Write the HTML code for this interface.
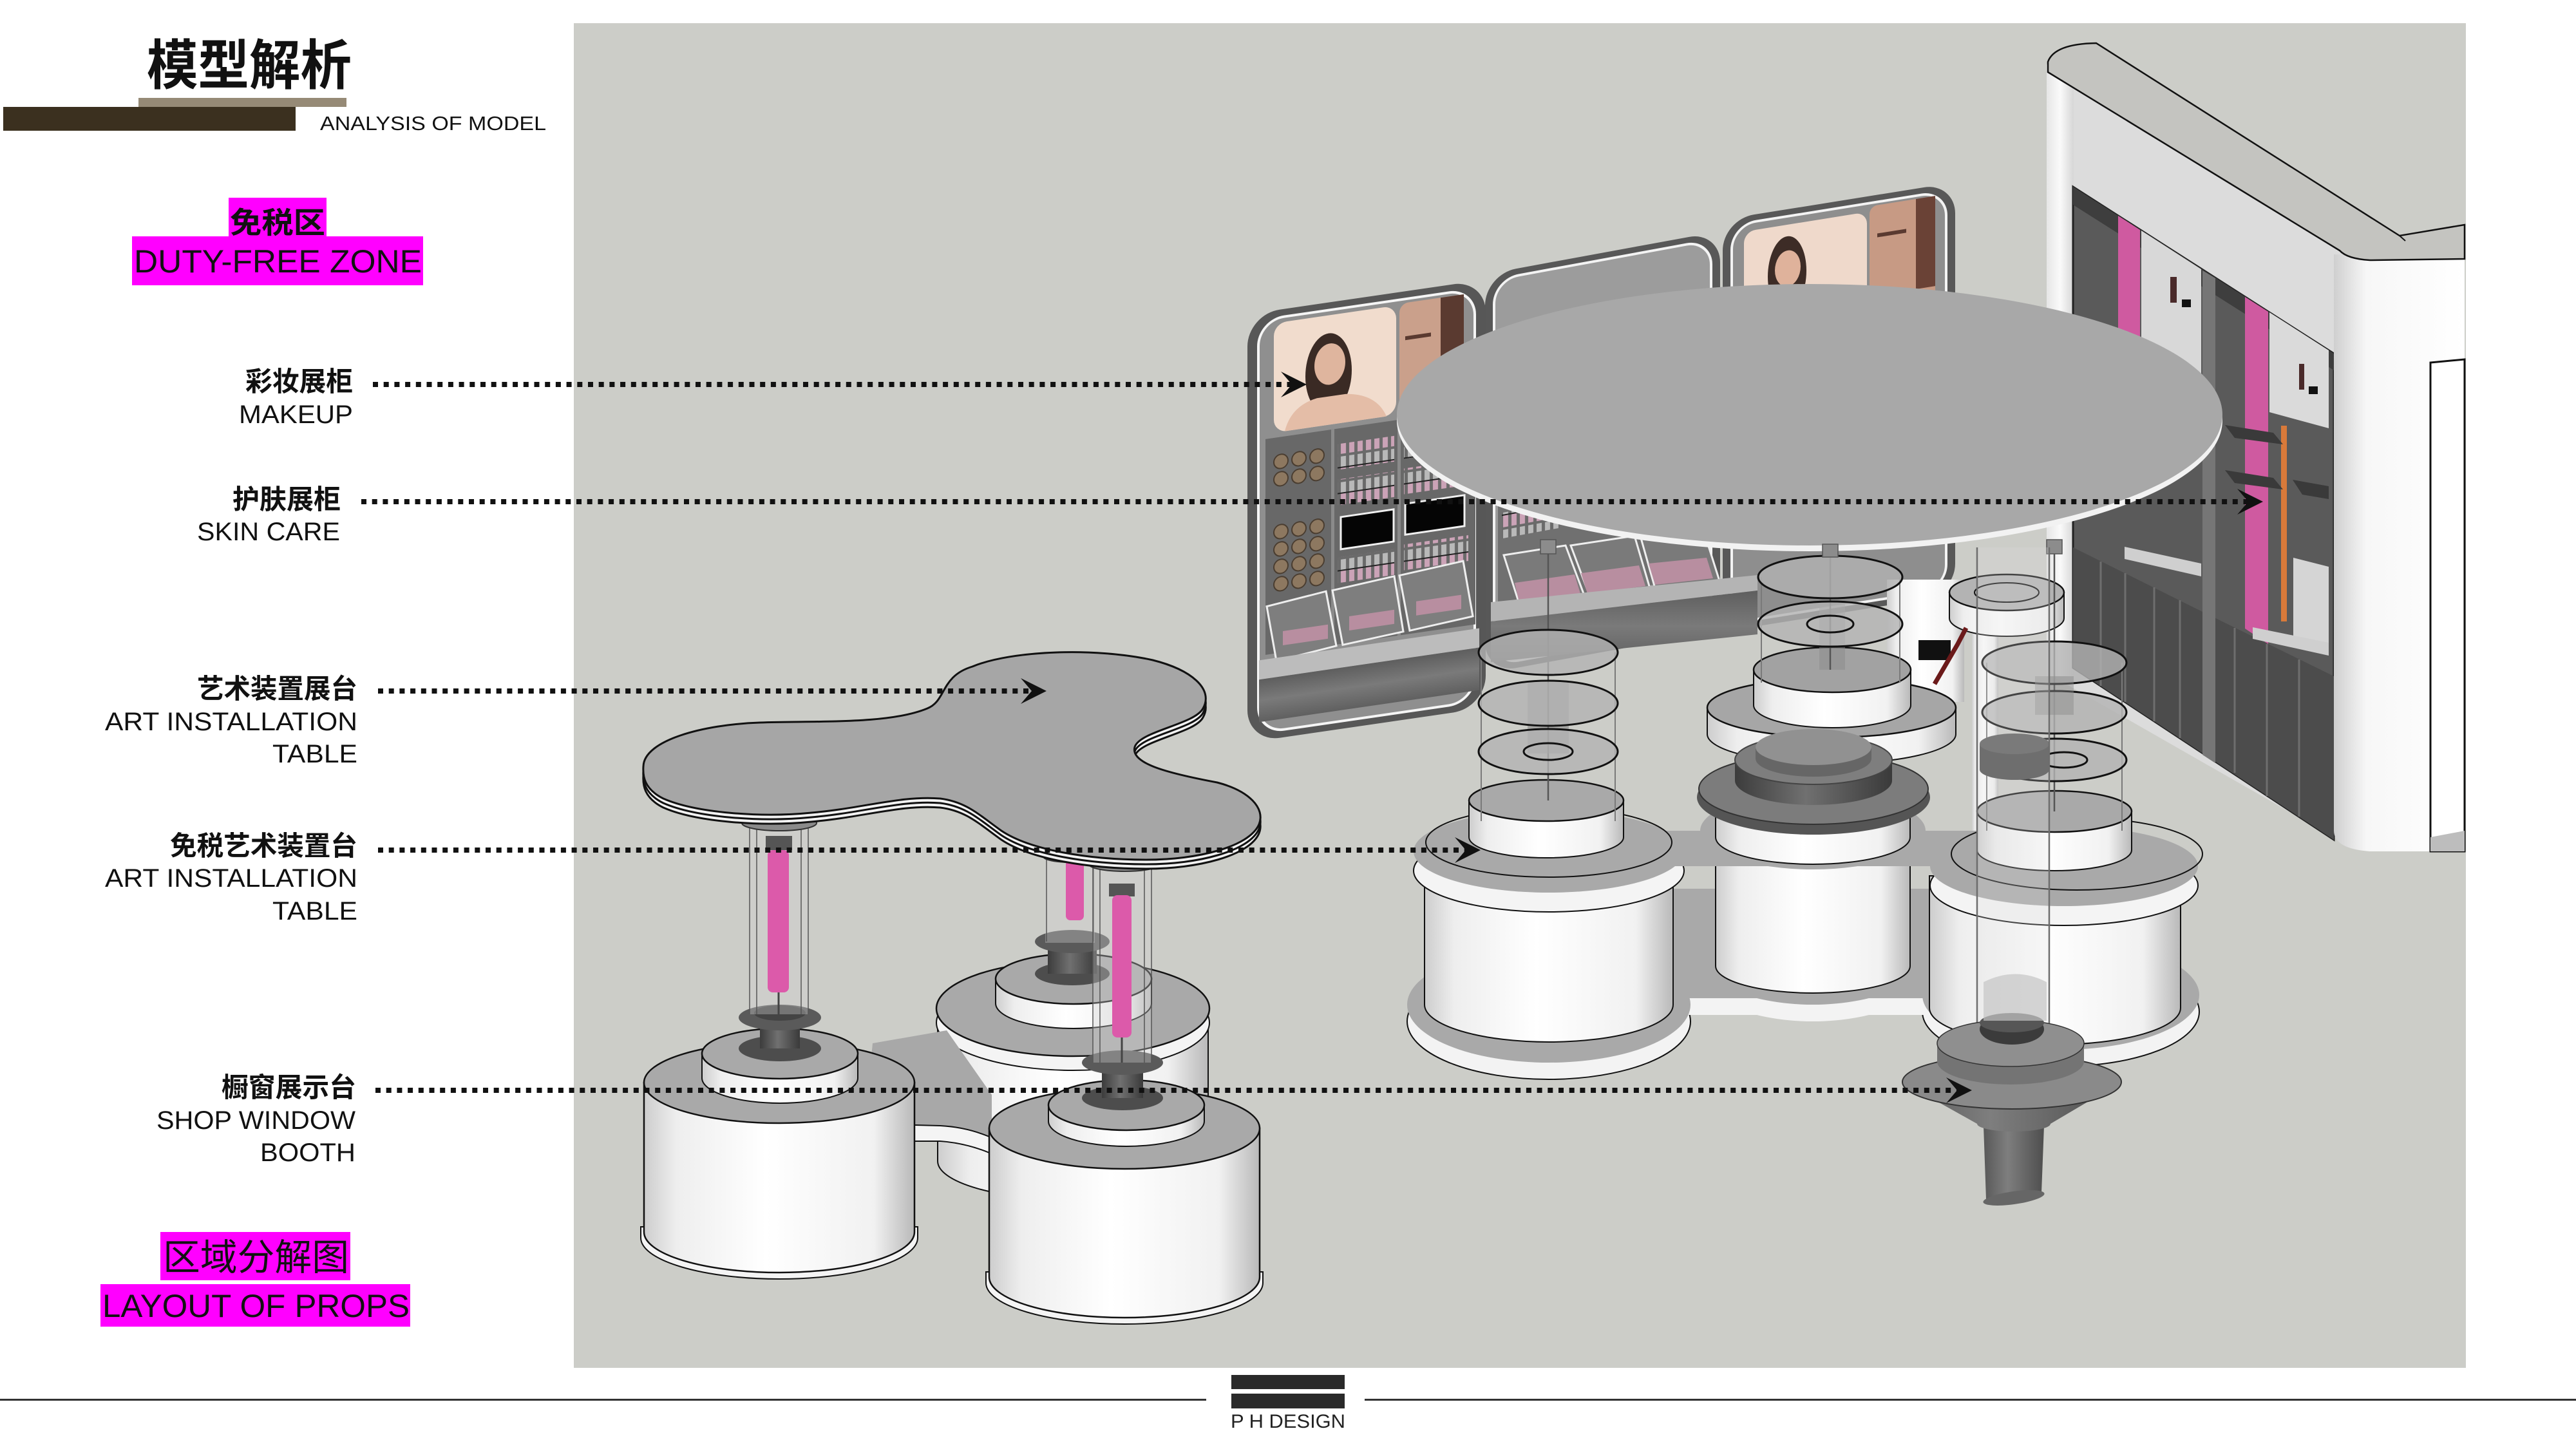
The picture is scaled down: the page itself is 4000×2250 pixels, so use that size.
<!DOCTYPE html>
<html><head><meta charset="utf-8">
<style>
html,body{margin:0;padding:0;background:#fff;}
svg{display:block;}
text{font-family:"Liberation Sans","Noto Sans CJK SC",sans-serif;fill:#111;}
.cn{font-weight:700;}
</style></head><body>
<svg width="4000" height="2250" viewBox="0 0 4000 2250" xmlns="http://www.w3.org/2000/svg">
<defs>
<linearGradient id="gW" x1="0" x2="1" y1="0" y2="0">
<stop offset="0" stop-color="#cdcdcd"/><stop offset="0.12" stop-color="#eeeeee"/><stop offset="0.45" stop-color="#ffffff"/><stop offset="0.85" stop-color="#f1f1f1"/><stop offset="1" stop-color="#b9b9b9"/>
</linearGradient>
<linearGradient id="gD" x1="0" x2="1" y1="0" y2="0">
<stop offset="0" stop-color="#3c3c3c"/><stop offset="0.45" stop-color="#707070"/><stop offset="1" stop-color="#3a3a3a"/>
</linearGradient>
<linearGradient id="gCone" x1="0" x2="1" y1="0" y2="0">
<stop offset="0" stop-color="#585858"/><stop offset="0.4" stop-color="#7e7e7e"/><stop offset="1" stop-color="#4e4e4e"/>
</linearGradient>
<linearGradient id="gCorner" x1="0" x2="1" y1="0" y2="0">
<stop offset="0" stop-color="#cfcfcf"/><stop offset="0.25" stop-color="#f7f7f7"/><stop offset="1" stop-color="#ffffff"/>
</linearGradient>
<linearGradient id="gEdge" x1="0" x2="1" y1="0" y2="0">
<stop offset="0" stop-color="#e6e6e6"/><stop offset="0.5" stop-color="#fafafa"/><stop offset="1" stop-color="#d6d6d6"/>
</linearGradient>
<linearGradient id="gCounter" x1="0" x2="0" y1="0" y2="1">
<stop offset="0" stop-color="#5e5e5e"/><stop offset="0.5" stop-color="#7a7a7a"/><stop offset="1" stop-color="#606060"/>
</linearGradient>
<pattern id="lip" width="13" height="40" patternUnits="userSpaceOnUse">
<rect x="0" y="0" width="13" height="40" fill="#6a6a6a"/>
<rect x="2" y="2" width="8" height="16" fill="#b9b9b9"/>
<rect x="2" y="20" width="8" height="18" fill="#cba3b7"/>
<rect x="0" y="18" width="13" height="2" fill="#222"/>
</pattern>
</defs>

<!-- header -->
<text x="228" y="131" font-size="84" class="cn" textLength="318" lengthAdjust="spacingAndGlyphs">模型解析</text>
<rect x="215" y="152" width="323" height="14" fill="#968a76"/>
<rect x="5" y="166" width="454" height="37" fill="#3b301f"/>
<text x="497" y="202" font-size="31" textLength="351" lengthAdjust="spacingAndGlyphs">ANALYSIS OF MODEL</text>

<rect x="355" y="307" width="152" height="61" fill="#ff00ff"/>
<rect x="205" y="367" width="452" height="76" fill="#ff00ff"/>
<text x="357" y="362" font-size="46" class="cn" textLength="148" lengthAdjust="spacingAndGlyphs">免税区</text>
<text x="208" y="423" font-size="50" textLength="447" lengthAdjust="spacingAndGlyphs">DUTY-FREE ZONE</text>

<!-- labels -->
<text x="381" y="607" font-size="42" class="cn" textLength="167" lengthAdjust="spacingAndGlyphs">彩妆展柜</text>
<text x="371" y="657" font-size="40" textLength="177" lengthAdjust="spacingAndGlyphs">MAKEUP</text>
<text x="361" y="790" font-size="42" class="cn" textLength="168" lengthAdjust="spacingAndGlyphs">护肤展柜</text>
<text x="306" y="839" font-size="40" textLength="222" lengthAdjust="spacingAndGlyphs">SKIN CARE</text>
<text x="306" y="1084" font-size="42" class="cn" textLength="249" lengthAdjust="spacingAndGlyphs">艺术装置展台</text>
<text x="163" y="1134" font-size="40" textLength="392" lengthAdjust="spacingAndGlyphs">ART INSTALLATION</text>
<text x="423" y="1184" font-size="40" textLength="132" lengthAdjust="spacingAndGlyphs">TABLE</text>
<text x="264" y="1328" font-size="42" class="cn" textLength="291" lengthAdjust="spacingAndGlyphs">免税艺术装置台</text>
<text x="163" y="1377" font-size="40" textLength="392" lengthAdjust="spacingAndGlyphs">ART INSTALLATION</text>
<text x="423" y="1428" font-size="40" textLength="132" lengthAdjust="spacingAndGlyphs">TABLE</text>
<text x="344" y="1703" font-size="42" class="cn" textLength="209" lengthAdjust="spacingAndGlyphs">橱窗展示台</text>
<text x="243" y="1753" font-size="40" textLength="309" lengthAdjust="spacingAndGlyphs">SHOP WINDOW</text>
<text x="404" y="1803" font-size="40" textLength="148" lengthAdjust="spacingAndGlyphs">BOOTH</text>

<rect x="249" y="1913" width="295" height="75" fill="#ff00ff"/>
<rect x="156" y="1994" width="481" height="66" fill="#ff00ff"/>
<text x="253" y="1972" font-size="57" textLength="289" lengthAdjust="spacingAndGlyphs">区域分解图</text>
<text x="159" y="2045" font-size="50" textLength="477" lengthAdjust="spacingAndGlyphs">LAYOUT OF PROPS</text>

<!-- footer -->
<rect x="0" y="2172" width="1873" height="3" fill="#333"/>
<rect x="2119" y="2172" width="1881" height="3" fill="#333"/>
<rect x="1912" y="2135" width="176" height="22" fill="#2a2a2a"/>
<rect x="1912" y="2164" width="176" height="23" fill="#2a2a2a"/>
<text x="1911" y="2217" font-size="30" textLength="178" lengthAdjust="spacingAndGlyphs" style="fill:#222">P H DESIGN</text>

<!-- model panel -->
<rect x="891" y="36" width="2938" height="2088" fill="#cccdc8"/>

<!-- RIGHT WALL -->
<path d="M3178,105 L3645,395 L3645,1312 L3178,1045 Z" fill="#dcdcdc"/>
<rect x="3178" y="100" width="42" height="950" fill="url(#gEdge)"/>
<path d="M3219,290 L3624,549 L3624,1304 L3219,1037 Z" fill="#5a5a5a" stroke="#222" stroke-width="3"/>
<path d="M3219,290 L3624,549 L3624,575 L3219,318 Z" fill="#3e3e3e"/>
<path d="M3219,850 L3420,950 L3624,1050 L3624,1304 L3219,1037 Z" fill="#4c4c4c"/>
<g stroke="#6e6e6e" stroke-width="3">
<line x1="3262" y1="872" x2="3262" y2="1065"/><line x1="3300" y1="890" x2="3300" y2="1090"/>
<line x1="3345" y1="912" x2="3345" y2="1120"/><line x1="3385" y1="932" x2="3385" y2="1146"/>
<line x1="3470" y1="975" x2="3470" y2="1200"/><line x1="3520" y1="1000" x2="3520" y2="1236"/>
<line x1="3570" y1="1024" x2="3570" y2="1268"/>
</g>
<path d="M3289,335 L3323,357 L3323,540 L3289,518 Z" fill="#cf5aa0"/>
<path d="M3325,358 L3418,418 L3418,600 L3325,570 Z" fill="#d8d8d8"/>
<rect x="3370" y="430" width="10" height="40" fill="#4a2a2a"/><rect x="3388" y="465" width="14" height="12" fill="#111"/>
<path d="M3420,420 L3440,432 L3440,1185 L3420,1172 Z" fill="#767676"/>
<path d="M3486,461 L3522,484 L3522,1000 L3486,976 Z" fill="#cf5aa0"/>
<path d="M3524,485 L3616,544 L3616,665 L3524,640 Z" fill="#dadada"/>
<rect x="3570" y="565" width="8" height="40" fill="#4a2a2a"/><rect x="3585" y="600" width="14" height="12" fill="#111"/>
<rect x="3542" y="661" width="9" height="304" fill="#d97a3a"/>
<path d="M3561,866 L3616,880 L3616,1000 L3561,990 Z" fill="#d5d5d5"/>
<path d="M3455,660 L3530,672 L3545,690 L3470,680 Z" fill="#3a3a3a"/>
<path d="M3455,730 L3530,742 L3545,760 L3470,750 Z" fill="#3a3a3a"/>
<path d="M3560,745 L3616,755 L3616,775 L3575,768 Z" fill="#3a3a3a"/>
<path d="M3299,849 L3418,875 L3418,895 L3299,868 Z" fill="#cfcfcf"/>
<path d="M3498,974 L3616,998 L3616,1018 L3498,992 Z" fill="#cfcfcf"/>
<path d="M3624,395 L3827,400 L3827,1322 L3680,1322 Q3624,1318 3624,1290 Z" fill="url(#gCorner)"/>
<path d="M3774,1322 L3774,563 L3827,558 L3827,1322 Z" fill="#ffffff" stroke="#111" stroke-width="3"/>
<path d="M3774,1300 L3827,1290 L3827,1322 L3774,1322 Z" fill="#bdbdbd"/>
<path d="M3180,112 L3180,96 Q3190,68 3255,67 L3726,366 L3827,349 L3827,402 L3680,404 Q3645,402 3633,389 Z" fill="#c4c4c0" stroke="#111" stroke-width="2.5"/>
<line x1="3726" y1="366" x2="3735" y2="374" stroke="#111" stroke-width="2"/>

<!-- PANEL 3 -->
<g transform="translate(2675,341) skewY(-9.1)">
<rect x="0" y="0" width="361" height="640" rx="48" fill="#585858"/>
<rect x="14" y="11" width="333" height="618" rx="38" fill="#8e8e8e" stroke="#f3f3f3" stroke-width="4"/>
<rect x="33" y="24" width="191" height="160" rx="18" fill="#efd9cb"/>
<ellipse cx="100" cy="100" rx="30" ry="58" fill="#3d2c26"/>
<ellipse cx="101" cy="92" rx="20" ry="28" fill="#dfb29b"/>
<rect x="228" y="16" width="102" height="168" rx="12" fill="#c79a84"/>
<rect x="300" y="16" width="30" height="140" fill="#6a4236"/>
<rect x="240" y="60" width="45" height="6" fill="#5a3a30"/>
</g>

<!-- PANEL 2 -->
<g transform="translate(2306,426) skewY(-10.4)">
<rect x="0" y="0" width="365" height="620" rx="48" fill="#585858"/>
<rect x="14" y="11" width="337" height="598" rx="38" fill="#9c9c9c" stroke="#f3f3f3" stroke-width="4"/>
<rect x="20" y="300" width="325" height="230" fill="#707070"/>
<rect x="26" y="320" width="90" height="40" fill="url(#lip)"/>
<rect x="26" y="375" width="90" height="40" fill="url(#lip)"/>
</g>
<path d="M2335,862 L2431,847 L2464,935 L2364,953 Z" fill="#7a7a7a" stroke="#eee" stroke-width="3"/>
<path d="M2439,847 L2538,832 L2563,917 L2472,935 Z" fill="#7a7a7a" stroke="#eee" stroke-width="3"/>
<path d="M2547,832 L2646,826 L2671,905 L2571,917 Z" fill="#7a7a7a" stroke="#eee" stroke-width="3"/>
<path d="M2352,905 L2445,892 L2455,925 L2360,940 Z" fill="#b88ea0"/>
<path d="M2455,890 L2545,878 L2555,910 L2465,922 Z" fill="#b88ea0"/>
<path d="M2560,875 L2650,866 L2660,898 L2570,908 Z" fill="#b88ea0"/>
<path d="M2315,935 L2729,893 L2729,917 L2315,965 Z" fill="#b4b4b4"/>
<path d="M2315,965 L2729,917 L2729,985 L2315,1028 Z" fill="url(#gCounter)"/>

<!-- PANEL 1 -->
<g transform="translate(1937,488) skewY(-8.3)">
<rect x="0" y="0" width="370" height="665" rx="50" fill="#575757"/>
<rect x="17" y="12" width="336" height="641" rx="40" fill="#8f8f8f" stroke="#f5f5f5" stroke-width="4"/>
<rect x="41" y="20" width="190" height="170" rx="20" fill="#f1dccd"/>
<ellipse cx="126" cy="110" rx="36" ry="62" fill="#3a2a24"/>
<ellipse cx="128" cy="96" rx="24" ry="32" fill="#dfb59e"/>
<path d="M58,190 Q68,152 108,146 L152,146 Q200,152 216,190 Z" fill="#e4bda7"/>
<rect x="236" y="18" width="100" height="172" rx="14" fill="#caa08b"/>
<rect x="300" y="18" width="36" height="130" fill="#5a3a30"/>
<rect x="245" y="70" width="40" height="6" fill="#5a3a30"/>
<rect x="28" y="198" width="326" height="335" fill="#686868"/>
<rect x="130" y="198" width="5" height="335" fill="#8a8a8a"/>
<rect x="233" y="198" width="5" height="335" fill="#8a8a8a"/>
<g fill="#8d7860" stroke="#4a3d30" stroke-width="2">
<circle cx="52" cy="236" r="11"/><circle cx="80" cy="236" r="11"/><circle cx="108" cy="236" r="11"/>
<circle cx="52" cy="263" r="11"/><circle cx="80" cy="263" r="11"/><circle cx="108" cy="263" r="11"/>
<circle cx="52" cy="345" r="11"/><circle cx="80" cy="345" r="11"/><circle cx="108" cy="345" r="11"/>
<circle cx="52" cy="372" r="11"/><circle cx="80" cy="372" r="11"/><circle cx="108" cy="372" r="11"/>
<circle cx="52" cy="399" r="11"/><circle cx="80" cy="399" r="11"/><circle cx="108" cy="399" r="11"/>
<circle cx="52" cy="426" r="11"/><circle cx="80" cy="426" r="11"/><circle cx="108" cy="426" r="11"/>
</g>
<rect x="140" y="222" width="88" height="40" fill="url(#lip)"/>
<rect x="140" y="277" width="88" height="40" fill="url(#lip)"/>
<rect x="140" y="398" width="88" height="40" fill="url(#lip)"/>
<rect x="243" y="220" width="100" height="40" fill="url(#lip)"/>
<rect x="243" y="275" width="100" height="40" fill="url(#lip)"/>
<rect x="243" y="393" width="100" height="40" fill="url(#lip)"/>
<rect x="145" y="336" width="82" height="50" fill="#050505" stroke="#f0f0f0" stroke-width="3"/>
<rect x="245" y="330" width="92" height="48" fill="#050505" stroke="#f0f0f0" stroke-width="3"/>
<path d="M30,458 L122,448 L138,535 L45,545 Z" fill="#7e7e7e" stroke="#eee" stroke-width="3"/>
<path d="M132,448 L228,440 L242,528 L148,535 Z" fill="#7e7e7e" stroke="#eee" stroke-width="3"/>
<path d="M236,440 L335,432 L350,520 L252,528 Z" fill="#7e7e7e" stroke="#eee" stroke-width="3"/>
<rect x="55" y="500" width="70" height="22" fill="#b88ea0"/>
<rect x="158" y="492" width="70" height="22" fill="#b88ea0"/>
<rect x="262" y="484" width="70" height="22" fill="#b88ea0"/>
<rect x="18" y="540" width="342" height="30" fill="#bcbcbc"/>
<rect x="18" y="570" width="342" height="66" fill="url(#gCounter)"/>
</g>

<!-- RIGHT CLUSTER back items -->
<path d="M3062,930 L3062,1300 L3103,1300 L3103,930 Z" fill="url(#gW)"/>
<path d="M2930,900 L2930,1090 L3050,1090 L3050,900 Z" fill="url(#gW)"/>
<path d="M3027,920 L3027,960 A89,28 0 0 0 3205,960 L3205,920 Z" fill="url(#gW)" stroke="#111" stroke-width="2"/>
<ellipse cx="3116" cy="920" rx="89" ry="28" fill="#b3b3b3" stroke="#111" stroke-width="2.5"/>
<ellipse cx="3116" cy="920" rx="50" ry="15" fill="none" stroke="#111" stroke-width="2"/>
<rect x="2979" y="994" width="50" height="31" fill="#111"/>
<path d="M3004,1062 L3040,1000 L3053,975" stroke="#6b1a1a" stroke-width="7" fill="none"/>

<!-- bottom slab -->
<g fill="#f3f3f3" stroke="#111" stroke-width="2" transform="translate(0,26)">
<ellipse cx="2405" cy="1560" rx="220" ry="90"/>
<ellipse cx="3200" cy="1545" rx="215" ry="85"/>
</g>
<g fill="#f3f3f3" transform="translate(0,26)">
<ellipse cx="2815" cy="1470" rx="190" ry="90"/>
<rect x="2405" y="1430" width="795" height="120"/>
</g>
<g fill="#a9a9a9">
<ellipse cx="2405" cy="1560" rx="220" ry="90"/>
<ellipse cx="3200" cy="1545" rx="215" ry="85"/>
<ellipse cx="2815" cy="1470" rx="190" ry="90"/>
<rect x="2405" y="1380" width="795" height="170"/>
</g>
<!-- drums -->
<path d="M2664,1300 L2664,1500 A151,42 0 0 0 2966,1500 L2966,1300 Z" fill="url(#gW)" stroke="#111" stroke-width="2"/>
<path d="M2212,1330 L2212,1560 A193,58 0 0 0 2598,1560 L2598,1330 Z" fill="url(#gW)" stroke="#111" stroke-width="2"/>
<path d="M2996,1360 L2996,1565 A195,57 0 0 0 3386,1565 L3386,1360 Z" fill="url(#gW)" stroke="#111" stroke-width="2"/>
<!-- top slab -->
<g fill="#f4f4f4" stroke="#111" stroke-width="2" transform="translate(0,30)">
<ellipse cx="2405" cy="1322" rx="210" ry="64"/>
<ellipse cx="3205" cy="1345" rx="208" ry="62"/>
</g>
<g fill="#a9a9a9">
<ellipse cx="2405" cy="1322" rx="210" ry="64"/>
<ellipse cx="3205" cy="1345" rx="208" ry="62"/>
<ellipse cx="2815" cy="1290" rx="175" ry="60"/>
<rect x="2405" y="1290" width="800" height="55"/>
</g>
<ellipse cx="2405" cy="1308" rx="191" ry="54" fill="none" stroke="#111" stroke-width="2"/>
<ellipse cx="3225" cy="1326" rx="195" ry="56" fill="none" stroke="#111" stroke-width="2"/>

<!-- middle back ring + cylinder -->
<path d="M2651,1099 L2651,1140 A193,46 0 0 0 3037,1140 L3037,1099 Z" fill="url(#gW)" stroke="#111" stroke-width="2"/>
<ellipse cx="2844" cy="1099" rx="193" ry="46" fill="#a6a6a6" stroke="#111" stroke-width="2.5"/>
<path d="M2723,1040 L2723,1095 A122,35 0 0 0 2967,1095 L2967,1040 Z" fill="url(#gW)" stroke="#111" stroke-width="2"/>
<ellipse cx="2845" cy="1040" rx="122" ry="35" fill="#a2a2a2" stroke="#111" stroke-width="2.5"/>
<rect x="2825" y="870" width="40" height="170" fill="#8a8a8a" opacity="0.5"/>

<!-- middle upper drum + dish -->
<path d="M2664,1243 L2664,1300 A151,42 0 0 0 2966,1300 L2966,1243 Z" fill="url(#gW)" stroke="#111" stroke-width="2"/>
<ellipse cx="2816" cy="1238" rx="181" ry="58" fill="#555"/>
<ellipse cx="2816" cy="1225" rx="178" ry="55" fill="#7c7c7c" stroke="#333" stroke-width="2"/>
<path d="M2694,1180 L2694,1212 A122,38 0 0 0 2938,1212 L2938,1180 Z" fill="url(#gD)"/>
<ellipse cx="2816" cy="1180" rx="122" ry="38" fill="#7e7e7e" stroke="#444" stroke-width="2"/>
<path d="M2726,1160 L2726,1178 A90,28 0 0 0 2906,1178 L2906,1160 Z" fill="#666"/>
<ellipse cx="2816" cy="1160" rx="90" ry="28" fill="#919191"/>

<!-- left inner drum -->
<path d="M2281,1243 L2281,1300 A120,32 0 0 0 2521,1300 L2521,1243 Z" fill="url(#gW)" stroke="#111" stroke-width="2"/>
<ellipse cx="2401" cy="1243" rx="120" ry="32" fill="#a9a9a9" stroke="#111" stroke-width="2.5"/>
<!-- right inner drum -->
<path d="M3070,1260 L3070,1320 A120,32 0 0 0 3310,1320 L3310,1260 Z" fill="url(#gW)" stroke="#111" stroke-width="2"/>
<ellipse cx="3190" cy="1260" rx="120" ry="32" fill="#a9a9a9" stroke="#111" stroke-width="2.5"/>

<!-- rods -->
<g stroke="#555" stroke-width="2.5">
<line x1="2404" y1="845" x2="2404" y2="1243"/>
<line x1="2842" y1="845" x2="2842" y2="1040"/>
<line x1="3190" y1="845" x2="3190" y2="1260"/>
</g>
<g stroke="#7a7a7a" stroke-width="2">
<line x1="2300" y1="1013" x2="2300" y2="1275"/><line x1="2508" y1="1013" x2="2508" y2="1275"/>
<line x1="2735" y1="896" x2="2735" y2="1060"/><line x1="2950" y1="896" x2="2950" y2="1060"/>
<line x1="3085" y1="1029" x2="3085" y2="1290"/><line x1="3295" y1="1029" x2="3295" y2="1290"/>
</g>
<!-- left discs -->
<rect x="2372" y="1060" width="64" height="110" fill="#858585" opacity="0.55"/>
<g fill="#b3b3b3" fill-opacity="0.8" stroke="#111" stroke-width="3">
<ellipse cx="2404" cy="1013" rx="108" ry="35"/>
<ellipse cx="2404" cy="1092" rx="108" ry="35"/>
<ellipse cx="2404" cy="1167" rx="108" ry="35"/>
<ellipse cx="2842" cy="896" rx="112" ry="33"/>
<ellipse cx="2842" cy="969" rx="112" ry="35"/>
<ellipse cx="3190" cy="1029" rx="112" ry="33"/>
<ellipse cx="3190" cy="1106" rx="112" ry="33"/>
<ellipse cx="3190" cy="1180" rx="112" ry="33"/>
</g>
<g fill="none" stroke="#111" stroke-width="3">
<ellipse cx="2404" cy="1167" rx="38" ry="13"/>
<ellipse cx="2842" cy="969" rx="36" ry="13"/>
<ellipse cx="3205" cy="1180" rx="36" ry="12"/>
</g>
<path d="M3074,1155 L3074,1195 A54,16 0 0 0 3182,1195 L3182,1155 Z" fill="#4a4a4a"/>
<ellipse cx="3128" cy="1155" rx="54" ry="16" fill="#5a5a5a"/>
<rect x="3160" y="1050" width="60" height="60" fill="#8a8a8a" opacity="0.45"/>

<!-- BIG ELLIPSE -->
<ellipse cx="2810" cy="653" rx="641" ry="203" fill="#f2f2f2"/>
<ellipse cx="2810" cy="644" rx="641" ry="203" fill="#a8a8a8"/>
<g fill="#8c8c8c" stroke="#555" stroke-width="1.5">
<rect x="2392" y="838" width="24" height="22"/><rect x="2830" y="845" width="24" height="20"/>
<rect x="3178" y="838" width="24" height="22"/>
</g>

<!-- CONE BOOTH -->
<rect x="3070" y="850" width="112" height="760" fill="#dcdcdc" opacity="0.25"/>
<g stroke="#6d6d6d" stroke-width="2.5">
<line x1="3070" y1="850" x2="3070" y2="1610"/><line x1="3182" y1="850" x2="3182" y2="1610"/>
</g>
<path d="M3080,1748 L3084,1862 L3170,1852 L3174,1748 Z" fill="url(#gCone)"/>
<ellipse cx="3127" cy="1860" rx="48" ry="10" fill="#666" transform="rotate(-8 3127 1860)"/>
<path d="M2954,1680 L3070,1745 A57,12 0 0 0 3184,1745 L3294,1680 Z" fill="url(#gCone)"/>
<ellipse cx="3124" cy="1680" rx="170" ry="42" fill="#8a8a8a" stroke="#333" stroke-width="2"/>
<path d="M3008,1620 L3008,1648 A114,36 0 0 0 3236,1648 L3236,1620 Z" fill="#747474"/>
<ellipse cx="3122" cy="1620" rx="114" ry="36" fill="#8f8f8f" stroke="#333" stroke-width="1.5"/>
<ellipse cx="3124" cy="1598" rx="50" ry="24" fill="#3b3b3b"/>
<ellipse cx="3124" cy="1588" rx="50" ry="15" fill="#565656"/>
<path d="M3080,1585 L3080,1525 Q3130,1500 3178,1525 L3178,1585 Z" fill="#c4c4c4" opacity="0.7"/>

<!-- LEFT TREFOIL GROUP -->
<!-- back middle drum -->
<path d="M1456,1566 L1456,1803 A210,60 0 0 0 1876,1803 L1876,1566 Z" fill="url(#gW)" stroke="#111" stroke-width="2"/>
<ellipse cx="1666" cy="1588" rx="212" ry="74" fill="#f4f4f4" stroke="#111" stroke-width="2"/>
<ellipse cx="1666" cy="1566" rx="212" ry="74" fill="#a9a9a9" stroke="#111" stroke-width="2.5"/>
<path d="M1546,1520 L1546,1558 A121,39 0 0 0 1788,1558 L1788,1520 Z" fill="url(#gW)" stroke="#111" stroke-width="2"/>
<ellipse cx="1667" cy="1520" rx="121" ry="39" fill="#a9a9a9" stroke="#111" stroke-width="2.5"/>
<ellipse cx="1665" cy="1512" rx="58" ry="18" fill="#4d4d4d"/>
<rect x="1627" y="1462" width="76" height="50" fill="url(#gD)"/>
<ellipse cx="1665" cy="1462" rx="58" ry="18" fill="#5a5a5a"/>
<rect x="1623" y="1324" width="77" height="140" fill="#d0d0d0" opacity="0.35"/>
<g stroke="#555" stroke-width="1.5"><line x1="1625" y1="1324" x2="1625" y2="1462"/><line x1="1698" y1="1324" x2="1698" y2="1462"/></g>
<rect x="1655" y="1334" width="28" height="95" rx="7" fill="#dc5aaa"/>

<!-- connecting plate -->
<path d="M1355,1620 L1470,1600 L1540,1700 L1540,1770 L1343,1773 L1343,1745 Z" fill="#a8a8a8"/>
<path d="M1343,1745 L1343,1772 L1460,1772 Q1500,1775 1536,1790 L1536,1765 Q1500,1750 1460,1748 Z" fill="#f4f4f4" stroke="#111" stroke-width="2"/>

<!-- left drum -->
<path d="M995,1905 L995,1922 A215,64 0 0 0 1425,1922 L1425,1905 Z" fill="#f4f4f4" stroke="#111" stroke-width="2"/>
<path d="M1000,1681 L1000,1913 A210,63 0 0 0 1420,1913 L1420,1681 Z" fill="url(#gW)" stroke="#111" stroke-width="2.5"/>
<ellipse cx="1210" cy="1681" rx="210" ry="63" fill="#a9a9a9" stroke="#111" stroke-width="2.5"/>
<path d="M1090,1636 L1090,1674 A121,39 0 0 0 1332,1674 L1332,1636 Z" fill="url(#gW)" stroke="#111" stroke-width="2"/>
<ellipse cx="1211" cy="1636" rx="121" ry="39" fill="#a9a9a9" stroke="#111" stroke-width="2.5"/>
<ellipse cx="1211" cy="1628" rx="64" ry="20" fill="#4d4d4d"/>
<rect x="1180" y="1580" width="62" height="48" fill="url(#gD)"/>
<ellipse cx="1211" cy="1580" rx="64" ry="20" fill="#5a5a5a"/>
<ellipse cx="1211" cy="1573" rx="40" ry="12" fill="#444"/>
<rect x="1164" y="1275" width="91" height="300" fill="#d0d0d0" opacity="0.35"/>
<g stroke="#555" stroke-width="1.5"><line x1="1164" y1="1275" x2="1164" y2="1575"/><line x1="1175" y1="1275" x2="1175" y2="1575"/><line x1="1244" y1="1275" x2="1244" y2="1575"/><line x1="1255" y1="1275" x2="1255" y2="1575"/></g>
<rect x="1189" y="1298" width="41" height="22" fill="#555"/>
<rect x="1192" y="1320" width="33" height="221" rx="8" fill="#dc5aaa"/>
<line x1="1209" y1="1541" x2="1209" y2="1575" stroke="#444" stroke-width="3"/>

<!-- front right drum -->
<path d="M1531,1975 L1531,1992 A215,64 0 0 0 1961,1992 L1961,1975 Z" fill="#f4f4f4" stroke="#111" stroke-width="2"/>
<path d="M1536,1752 L1536,1983 A210,63 0 0 0 1956,1983 L1956,1752 Z" fill="url(#gW)" stroke="#111" stroke-width="2.5"/>
<ellipse cx="1746" cy="1752" rx="210" ry="63" fill="#a9a9a9" stroke="#111" stroke-width="2.5"/>
<path d="M1628,1716 L1628,1741 A121,39 0 0 0 1870,1741 L1870,1716 Z" fill="url(#gW)" stroke="#111" stroke-width="2"/>
<ellipse cx="1749" cy="1716" rx="121" ry="39" fill="#a9a9a9" stroke="#111" stroke-width="2.5"/>
<ellipse cx="1743" cy="1705" rx="63" ry="19" fill="#4d4d4d"/>
<rect x="1711" y="1650" width="64" height="55" fill="url(#gD)"/>
<ellipse cx="1743" cy="1650" rx="63" ry="19" fill="#5a5a5a"/>
<rect x="1697" y="1345" width="91" height="305" fill="#d0d0d0" opacity="0.35"/>
<g stroke="#555" stroke-width="1.5"><line x1="1697" y1="1345" x2="1697" y2="1650"/><line x1="1708" y1="1345" x2="1708" y2="1650"/><line x1="1777" y1="1345" x2="1777" y2="1650"/><line x1="1788" y1="1345" x2="1788" y2="1650"/></g>
<rect x="1722" y="1372" width="40" height="20" fill="#555"/>
<rect x="1727" y="1390" width="30" height="221" rx="8" fill="#dc5aaa"/>
<line x1="1742" y1="1611" x2="1742" y2="1650" stroke="#444" stroke-width="3"/>

<!-- collars -->
<ellipse cx="1210" cy="1278" rx="58" ry="12" fill="#8a8a8a" stroke="#333" stroke-width="2"/>
<ellipse cx="1662" cy="1330" rx="42" ry="9" fill="#8a8a8a" stroke="#333" stroke-width="2"/>
<ellipse cx="1746" cy="1342" rx="55" ry="11" fill="#8a8a8a" stroke="#333" stroke-width="2"/>

<!-- trefoil top -->
<g stroke="#111" stroke-width="3">
<path transform="translate(0,14)" fill="#f2f2f2" d="M999,1190 C1000,1150 1090,1125 1180,1122 C1270,1119 1380,1125 1440,1100 C1470,1088 1460,1050 1510,1035 C1570,1010 1700,1005 1790,1025 C1850,1040 1885,1070 1868,1100 C1855,1125 1770,1135 1762,1160 C1755,1185 1810,1200 1890,1215 C1940,1228 1965,1255 1955,1280 C1940,1315 1860,1335 1780,1335 C1690,1335 1600,1320 1555,1290 C1520,1265 1500,1245 1460,1240 C1400,1235 1340,1255 1260,1262 C1180,1270 1080,1262 1030,1240 C1000,1225 998,1205 999,1190 Z"/>
<path transform="translate(0,7)" fill="#f2f2f2" d="M999,1190 C1000,1150 1090,1125 1180,1122 C1270,1119 1380,1125 1440,1100 C1470,1088 1460,1050 1510,1035 C1570,1010 1700,1005 1790,1025 C1850,1040 1885,1070 1868,1100 C1855,1125 1770,1135 1762,1160 C1755,1185 1810,1200 1890,1215 C1940,1228 1965,1255 1955,1280 C1940,1315 1860,1335 1780,1335 C1690,1335 1600,1320 1555,1290 C1520,1265 1500,1245 1460,1240 C1400,1235 1340,1255 1260,1262 C1180,1270 1080,1262 1030,1240 C1000,1225 998,1205 999,1190 Z"/>
<path fill="#a6a6a6" d="M999,1190 C1000,1150 1090,1125 1180,1122 C1270,1119 1380,1125 1440,1100 C1470,1088 1460,1050 1510,1035 C1570,1010 1700,1005 1790,1025 C1850,1040 1885,1070 1868,1100 C1855,1125 1770,1135 1762,1160 C1755,1185 1810,1200 1890,1215 C1940,1228 1965,1255 1955,1280 C1940,1315 1860,1335 1780,1335 C1690,1335 1600,1320 1555,1290 C1520,1265 1500,1245 1460,1240 C1400,1235 1340,1255 1260,1262 C1180,1270 1080,1262 1030,1240 C1000,1225 998,1205 999,1190 Z"/>
</g>

<!-- DOTTED LEADERS -->
<g stroke="#111" stroke-width="8" stroke-dasharray="8 8.7" fill="none">
<line x1="579" y1="597" x2="2006" y2="597"/>
<line x1="561" y1="779" x2="3491" y2="779"/>
<line x1="587" y1="1073" x2="1602" y2="1073"/>
<line x1="587" y1="1320" x2="2276" y2="1320"/>
<line x1="583" y1="1693" x2="3039" y2="1693"/>
</g>
<g fill="#111">
<path d="M2029,597 L1989,577 L2006,597 L1989,617 Z"/>
<path d="M3514,779 L3474,759 L3491,779 L3474,799 Z"/>
<path d="M1625,1073 L1585,1053 L1602,1073 L1585,1093 Z"/>
<path d="M2299,1320 L2259,1300 L2276,1320 L2259,1340 Z"/>
<path d="M3062,1693 L3022,1673 L3039,1693 L3022,1713 Z"/>
</g>
</svg>
</body></html>
